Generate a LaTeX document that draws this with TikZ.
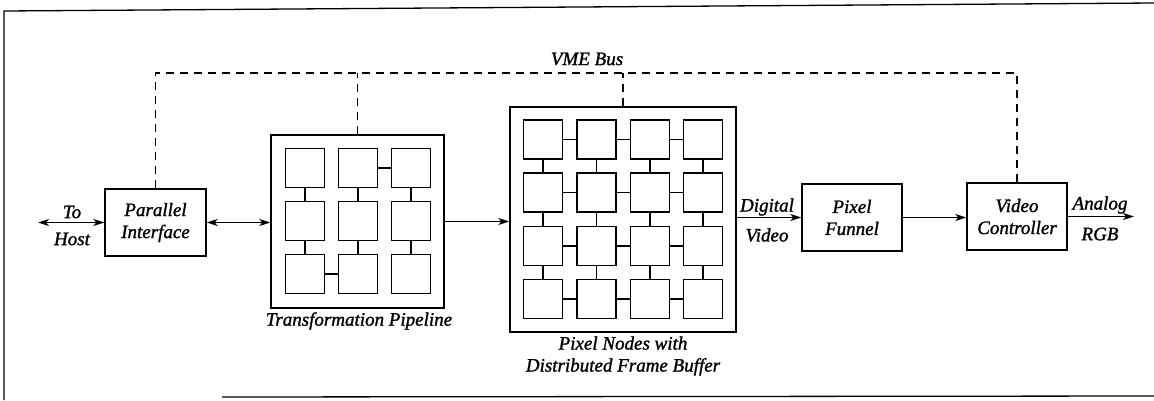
\documentclass[tikz,border=0pt]{standalone}
\usepackage{fontspec}
\setmainfont[ItalicFeatures={FakeBold=1.3}]{Liberation Serif}
\usetikzlibrary{arrows.meta}

\tikzset{
  px/.style={x=1pt,y=-1pt},
  lbl/.style={font=\fontsize{19}{22}\selectfont\itshape, inner sep=0pt, align=center},
  unit/.style={draw, line width=1.4pt, rectangle, inner sep=0pt, minimum width=100pt, minimum height=67pt,
               font=\fontsize{19}{22}\selectfont\itshape, align=center},
  cell/.style={draw, line width=1.3pt, rectangle, inner sep=0pt, minimum size=39pt},
  frame/.style={draw, line width=1.4pt, rectangle, inner sep=0pt},
  link/.style={line width=1.2pt},
  bus/.style={line width=1.3pt, dash pattern=on 8pt off 6pt},
  flow/.style={line width=1.3pt, -{Stealth[length=11pt,width=7pt,inset=3pt]}},
  bothflow/.style={line width=1.3pt, {Stealth[length=11pt,width=7pt,inset=3pt]}-{Stealth[length=11pt,width=7pt,inset=3pt]}},
  outline/.style={line width=1.3pt}
}

\begin{document}
\begin{tikzpicture}[px]
  \useasboundingbox (0,0) rectangle (1154,400);

  % page outline
  \draw[outline] (1154,3) -- (4,11) -- (4,400);
  \draw[outline] (222,397) -- (1154,396);

  % main units
  \node[unit, minimum width=101pt] (pi) at (155.5,222.5) {Parallel\\Interface};
  \node[unit] (pf) at (852,217.5) {Pixel\\Funnel};
  \node[unit] (vc) at (1017,216.5) {Video\\Controller};

  % transformation pipeline: 3x3 array
  \node[frame, minimum width=173pt, minimum height=173pt] (tp) at (357.5,221.5) {};
  \foreach \c [count=\i] in {305,358,411}{
    \foreach \r [count=\j] in {168,221,274}{
      \node[cell] (t\j\i) at (\c,\r) {};
    }
  }
  \draw[link] (t12) -- (t13);
  \draw[link] (t11) -- (t21);  \draw[link] (t12) -- (t22);  \draw[link] (t13) -- (t23);
  \draw[link] (t21) -- (t31);  \draw[link] (t22) -- (t32);  \draw[link] (t23) -- (t33);
  \draw[link] (t31) -- (t32);

  % pixel nodes: 4x4 mesh
  \node[frame, minimum width=226pt, minimum height=225pt] (pn) at (623,219.5) {};
  \foreach \c [count=\i] in {543,596.5,650,703}{
    \foreach \r [count=\j] in {139.5,192.5,246,299}{
      \node[cell] (p\j\i) at (\c,\r) {};
    }
  }
  \foreach \j in {1,...,4}{
    \draw[link] (p\j1) -- (p\j2);
    \draw[link] (p\j2) -- (p\j3);
    \draw[link] (p\j3) -- (p\j4);
  }
  \foreach \i in {1,...,4}{
    \draw[link] (p1\i) -- (p2\i);
    \draw[link] (p2\i) -- (p3\i);
    \draw[link] (p3\i) -- (p4\i);
  }

  % VME bus
  \coordinate (busy) at (0,73);
  \draw[bus] (pi.north) -- (pi.north |- busy) -- (vc.north |- busy) -- (vc.north);
  \draw[bus] (tp.north) -- (tp.north |- busy);
  \draw[bus] (pn.north) -- (pn.north |- busy);
  \node[lbl] (vme) at (587,59) {VME Bus};

  % data path
  \coordinate (host) at (38,222.5);
  \coordinate (out) at (1134,216.5);
  \draw[bothflow] (host) -- (pi.west);
  \draw[bothflow] (pi.east) -- (pi.east -| tp.west);
  \draw[flow] (tp.east) -- (tp.east -| pn.west);
  \draw[flow] (pn.east |- pf.west) -- (pf.west);
  \draw[flow] (pf.east) -- (pf.east -| vc.west);
  \draw[flow] (vc.east) -- (out);

  % labels
  \node[lbl] (to) at (72,212) {To};
  \node[lbl] (hostl) at (72,239) {Host};
  \node[lbl] (dig) at (767,207) {Digital};
  \node[lbl] (vid) at (767,235) {Video};
  \node[lbl] (ana) at (1100,205) {Analog};
  \node[lbl] (rgb) at (1100,234) {RGB};
  \node[lbl] (tpl) at (359,321) {Transformation Pipeline};
  \node[lbl] (pnl) at (623,356) {Pixel Nodes with\\Distributed Frame Buffer};
\end{tikzpicture}
\end{document}
